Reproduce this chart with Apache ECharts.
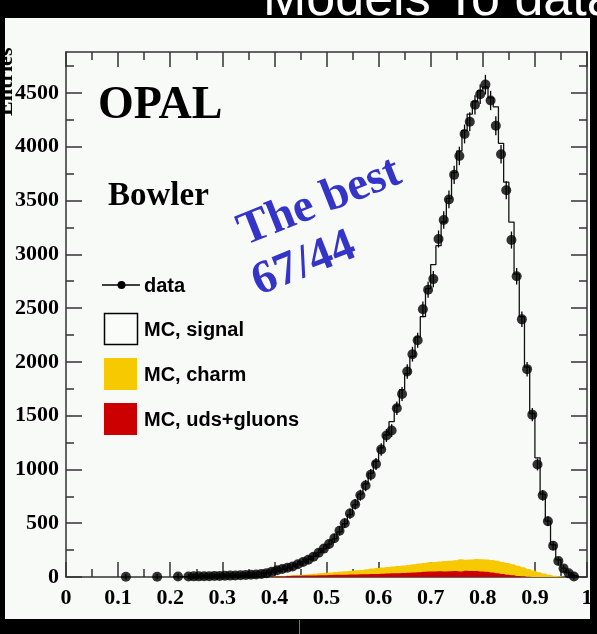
<!DOCTYPE html>
<html>
<head>
<meta charset="utf-8">
<script src="https://cdn.jsdelivr.net/npm/echarts@6/dist/echarts.min.js"></script>
<style>
html,body{margin:0;padding:0;background:#000;}
#chart{width:597px;height:634px;}
</style>
</head>
<body>
<div id="chart"></div>
<script>
// ---- data ----
const dataX = [0.115,0.175,0.215,0.235,0.245,0.255,0.265,0.275,0.285,0.295,0.305,0.315,0.325,0.335,0.345,0.355,0.365,0.375,0.385,0.395,0.405,0.415,0.425,0.435,0.445,0.455,0.465,0.475,0.485,0.495,0.505,0.515,0.525,0.535,0.545,0.555,0.565,0.575,0.585,0.595,0.605,0.615,0.625,0.635,0.645,0.655,0.665,0.675,0.685,0.695,0.705,0.715,0.725,0.735,0.745,0.755,0.765,0.775,0.785,0.795,0.805,0.815,0.825,0.835,0.845,0.855,0.865,0.875,0.885,0.895,0.905,0.915,0.925,0.935,0.945,0.955,0.965,0.975];
const dataY = [3,3,4,5,6,6,7,8,9,10,11,13,14,16,18,21,24,29,36,49,63,74,86,97,118,140,160,188,225,264,306,360,430,500,590,676,760,850,950,1050,1185,1315,1361,1568,1701,1910,2071,2201,2488,2670,2769,3142,3318,3509,3738,3914,4118,4231,4389,4488,4577,4429,4194,3929,3595,3132,2796,2395,1932,1509,1046,759,519,290,148,80,34,5];

const mcX = [0.205,0.215,0.225,0.235,0.245,0.255,0.265,0.275,0.285,0.295,0.305,0.315,0.325,0.335,0.345,0.355,0.365,0.375,0.385,0.395,0.405,0.415,0.425,0.435,0.445,0.455,0.465,0.475,0.485,0.495,0.505,0.515,0.525,0.535,0.545,0.555,0.565,0.575,0.585,0.595,0.605,0.615,0.625,0.635,0.645,0.655,0.665,0.675,0.685,0.695,0.705,0.715,0.725,0.735,0.745,0.755,0.765,0.775,0.785,0.795,0.805,0.815,0.825,0.835,0.845,0.855,0.865,0.875,0.885,0.895,0.905,0.915,0.925,0.935,0.945,0.955,0.965,0.975,0.985];
const mcY = [2,3,4,5,5,6,7,8,9,10,11,12,14,16,18,21,25,30,37,46,58,72,85,100,120,142,165,192,225,262,305,355,420,495,580,670,770,865,965,1075,1200,1320,1444,1590,1741,1890,2050,2230,2420,2680,2904,3080,3300,3520,3760,3960,4150,4303,4420,4520,4555,4454,4370,4031,3670,3299,2815,2420,1950,1520,1108,770,520,300,160,82,38,12,3];

const bkgX = [0.395,0.405,0.415,0.425,0.435,0.445,0.455,0.465,0.475,0.485,0.495,0.505,0.515,0.525,0.535,0.545,0.555,0.565,0.575,0.585,0.595,0.605,0.615,0.625,0.635,0.645,0.655,0.665,0.675,0.685,0.695,0.705,0.715,0.725,0.735,0.745,0.755,0.765,0.775,0.785,0.795,0.805,0.815,0.825,0.835,0.845,0.855,0.865,0.875,0.885,0.895,0.905,0.915,0.925,0.935,0.945,0.955];
const udsY = [4,6,8,9,11,12,13,14,15,16,17,18,20,21,22,23,24,25,26,27,28,30,32,34,36,38,40,42,45,48,50,52,53,50,54,56,52,58,55,56,52,48,42,35,28,22,16,10,6,3,1,0,0,0,0,0,0];
const charmY = [0,0,2,4,5,7,9,12,15,19,23,24,26,29,32,35,38,41,46,51,56,58,61,63,66,68,72,76,80,83,87,88,91,98,98,99,114,102,108,112,113,114,116,115,112,108,102,95,84,72,59,45,32,22,12,6,2];

const xTicksMajor = [0,0.1,0.2,0.3,0.4,0.5,0.6,0.7,0.8,0.9,1];
const yTicksMajor = [0,500,1000,1500,2000,2500,3000,3500,4000,4500];
const yTicksMinor = [250,750,1250,1750,2250,2750,3250,3750,4250,4750];

const legendLabels = ['data','MC, signal','MC, charm','MC, uds+gluons'];

// ---- build ----
const zip = (xs, ys) => xs.map((x, i) => [x, ys[i]]);
// charm is drawn stacked on top of uds+gluons
const charmStackTop = udsY.map((u, i) => u + charmY[i]);
const AX = '#333';
const serif = 'Liberation Serif';

const chart = echarts.init(document.getElementById('chart'), null, {renderer:'canvas'});

function xAxisCfg(pos, labels){
  return {
    type:'value', position:pos, min:0, max:1, interval:0.1,
    axisLine:{show:true, onZero:false, lineStyle:{color:AX, width:1.5}},
    axisTick:{show:true, inside:true, length:15, lineStyle:{color:AX, width:1.5}},
    minorTick:{show:true, splitNumber:2, length:8, lineStyle:{color:AX, width:1.5}},
    splitLine:{show:false}, minorSplitLine:{show:false},
    axisLabel:{show:labels, customValues:xTicksMajor, fontFamily:serif, fontWeight:'bold', fontSize:22, color:'#000', margin:10,
      formatter:v => String(+(+v).toFixed(1))}
  };
}
function yAxisCfg(pos, major, labels){
  return {
    type:'value', position:pos, min:0, max:4880,
    axisLine:{show:major, onZero:false, lineStyle:{color:AX, width:1.5}},
    axisTick:{show:true, inside:true, length: major?16:8, customValues: major?yTicksMajor:yTicksMinor, lineStyle:{color:AX, width:1.5}},
    splitLine:{show:false},
    axisLabel:{show:labels, customValues:yTicksMajor, fontFamily:serif, fontWeight:'bold', fontSize:22, color:'#000', margin:7,
      formatter:v => String(v)}
  };
}

const option = {
  backgroundColor:'#f8faf8',
  animation:false,
  grid:{left:66, right:10, top:52, bottom:57, containLabel:false},
  xAxis:[xAxisCfg('bottom', true), xAxisCfg('top', false)],
  yAxis:[yAxisCfg('left', true, true), yAxisCfg('left', false, false), yAxisCfg('right', true, false), yAxisCfg('right', false, false)],
  series:[
    {name:legendLabels[2], type:'line', step:'middle', data:zip(bkgX, charmStackTop), symbol:'none',
      lineStyle:{width:0}, areaStyle:{color:'#f7c900', opacity:1}, z:1},
    {name:legendLabels[3], type:'line', step:'middle', data:zip(bkgX, udsY), symbol:'none',
      lineStyle:{width:0}, areaStyle:{color:'#cc0000', opacity:1}, z:2},
    {name:legendLabels[1], type:'line', step:'middle', data:zip(mcX, mcY), symbol:'none',
      lineStyle:{color:'#111', width:1.3}, z:3},
    {name:'errors', type:'custom', data:zip(dataX, dataY), z:4,
      renderItem:(params, api) => {
        const x = api.value(0), y = api.value(1), e = Math.sqrt(y);
        const p1 = api.coord([x, y + e]), p2 = api.coord([x, Math.max(0, y - e)]);
        return {type:'line', shape:{x1:p1[0], y1:p1[1]-2.5, x2:p2[0], y2:p2[1]+2.5}, style:{stroke:'#000', lineWidth:1.3}};
      }},
    {name:legendLabels[0], type:'scatter', data:zip(dataX, dataY), symbol:'circle', symbolSize:10,
      itemStyle:{color:'#000'}, z:5}
  ],
  graphic:[
    // annotations
    {type:'text', x:98, y:106, style:{text:'OPAL', font:'bold 46px "Liberation Serif"', fill:'#000', textAlign:'left', textVerticalAlign:'middle'}, z:10},
    {type:'text', x:108, y:196, style:{text:'Bowler', font:'bold 33px "Liberation Serif"', fill:'#000', textAlign:'left', textVerticalAlign:'middle'}, z:10},
    {type:'text', x:249, y:256, rotation:0.38, style:{text:'The best', font:'bold 47px "Liberation Serif"', fill:'#3434c8', textAlign:'left', textVerticalAlign:'bottom'}, z:10},
    {type:'text', x:263, y:306, rotation:0.38, style:{text:'67/44', font:'bold 47px "Liberation Serif"', fill:'#3434c8', textAlign:'left', textVerticalAlign:'bottom'}, z:10},
    // legend
    {type:'line', shape:{x1:102, y1:285, x2:140, y2:285}, style:{stroke:'#000', lineWidth:1.5}, z:10},
    {type:'circle', shape:{cx:121.5, cy:285, r:4}, style:{fill:'#000'}, z:10},
    {type:'text', x:144, y:286, style:{text:legendLabels[0], font:'bold 20px "Liberation Sans"', fill:'#000', textVerticalAlign:'middle'}, z:10},
    {type:'rect', shape:{x:104.5, y:313.5, width:33, height:31}, style:{fill:'#fafcfa', stroke:'#000', lineWidth:1.5}, z:10},
    {type:'text', x:144, y:330, style:{text:legendLabels[1], font:'bold 20px "Liberation Sans"', fill:'#000', textVerticalAlign:'middle'}, z:10},
    {type:'rect', shape:{x:104, y:358, width:33, height:32}, style:{fill:'#f7c900'}, z:10},
    {type:'text', x:144, y:375, style:{text:legendLabels[2], font:'bold 20px "Liberation Sans"', fill:'#000', textVerticalAlign:'middle'}, z:10},
    {type:'rect', shape:{x:104, y:403, width:33, height:32}, style:{fill:'#cc0000'}, z:10},
    {type:'text', x:144, y:420, style:{text:legendLabels[3], font:'bold 20px "Liberation Sans"', fill:'#000', textVerticalAlign:'middle'}, z:10},
    // axis titles
    {type:'text', x:17, y:116, rotation:Math.PI/2, style:{text:'Entries', font:'bold 22px "Liberation Serif"', fill:'#000', textAlign:'left', textVerticalAlign:'bottom'}, z:10},
    {type:'text', x:563, y:629, style:{text:'x', font:'bold 22px "Liberation Serif"', fill:'#000', textAlign:'center', textVerticalAlign:'middle'}, z:10},
    {type:'text', x:584, y:629, style:{text:'.', font:'bold 22px "Liberation Serif"', fill:'#000', textAlign:'center', textVerticalAlign:'middle'}, z:10},
    // outer black frame
    {type:'rect', shape:{x:0, y:0, width:597, height:18}, style:{fill:'#000'}, z:20},
    {type:'rect', shape:{x:0, y:0, width:5, height:634}, style:{fill:'#000'}, z:20},
    {type:'rect', shape:{x:590, y:0, width:7, height:634}, style:{fill:'#000'}, z:20},
    {type:'rect', shape:{x:0, y:619, width:597, height:15}, style:{fill:'#000'}, z:20},
    {type:'line', shape:{x1:299.5, y1:620, x2:299.5, y2:634}, style:{stroke:'#777', lineWidth:1}, z:21},
    {type:'text', x:263, y:27, style:{text:'Models To data', font:'52px "Liberation Sans"', fill:'#fff', textAlign:'left', textVerticalAlign:'bottom'}, z:22},
    // keep the cut-off title inside the black band
    {type:'rect', shape:{x:5, y:18, width:585, height:12}, style:{fill:'#f8faf8'}, z:21}
  ]
};
chart.setOption(option);
</script>
</body>
</html>
